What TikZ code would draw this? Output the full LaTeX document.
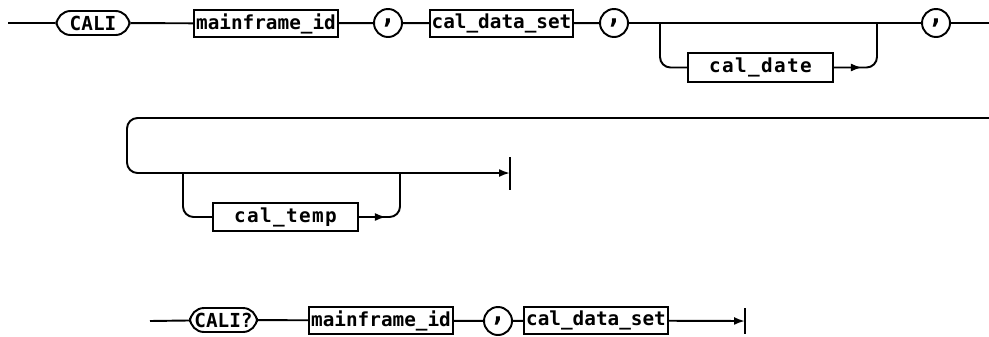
\documentclass[tikz,border=0pt]{standalone}
\usepackage{fontspec}
\newfontfamily\plotfont{DejaVu Sans Mono}
\newfontfamily\plotwide[LetterSpace=7]{DejaVu Sans Mono}
\usetikzlibrary{arrows.meta, positioning, calc}
\tikzset{
  every picture/.style={line width=1.1pt},
  term/.style={draw, rounded corners=8pt, minimum height=0.48cm, inner sep=1pt, font=\fontsize{11}{13}\plotfont\bfseries},
  ntbox/.style={draw, minimum height=0.54cm, inner sep=1pt, font=\fontsize{11}{13}\plotfont\bfseries},
  optbox/.style={ntbox, minimum width=2.9cm, minimum height=0.58cm, font=\fontsize{11}{13}\plotwide\bfseries},
  sepcirc/.style={draw, circle, minimum size=0.56cm, inner sep=0pt, font=\fontsize{15}{15}\plotfont\bfseries},
  flow/.style={-{Latex[length=2.2mm,width=1.6mm]}},
  railbend/.style={rounded corners=6pt},
}
\newcommand{\commasym}{\raisebox{2.5pt}{,}}
\begin{document}
\begin{tikzpicture}[x=0.02cm, y=-0.02cm]
  \useasboundingbox (0,0) rectangle (989,336);
  % CALI command, first line
  \coordinate (s1) at (8,23);
  \node[term, minimum width=1.46cm] (cali) at (93,23) {CALI};
  \node[ntbox, minimum width=2.84cm] (mf1) at (266,23.5) {mainframe\_id};
  \node[sepcirc] (c1) at (388,23) {\commasym};
  \node[ntbox, minimum width=2.86cm] (ds1) at (501.5,23.5) {cal\_data\_set};
  \node[sepcirc] (c2) at (614,23) {\commasym};
  \node[optbox] (date) at (760.5,67.5) {cal\_date};
  \node[sepcirc] (c3) at (936,23) {\commasym};
  \coordinate (e1) at (989,23);
  \draw (s1) -- (cali) -- (mf1) -- (c1) -- (ds1) -- (c2) -- (c3) -- (e1);
  \coordinate (b1) at (660,23);
  \coordinate (b2) at (877,23);
  \draw[railbend] (b1) |- (date.west);
  \draw[railbend] (date.east) -| (b2);
  \draw[flow] (date.east) -- ++(28,0);
  % second line
  \coordinate (s2) at (989,118);
  \coordinate (k2) at (127,173);
  \coordinate (bar2) at (510,173);
  \draw[railbend, flow] (s2) -| (k2) -- (bar2);
  \draw ($(bar2)+(0,-16)$) -- ($(bar2)+(0,17)$);
  \node[optbox, minimum height=0.56cm] (temp) at (285.5,217) {cal\_temp};
  \coordinate (b3) at (183,173);
  \coordinate (b4) at (400,173);
  \draw[railbend] (b3) |- (temp.west);
  \draw[railbend] (temp.east) -| (b4);
  \draw[flow] (temp.east) -- ++(27,0);
  % CALI? query
  \coordinate (s3) at (150,321);
  \node[term, minimum width=1.34cm] (caliq) at (223.5,320) {CALI?};
  \node[ntbox, minimum width=2.84cm] (mf2) at (381,320.5) {mainframe\_id};
  \node[sepcirc] (c4) at (498,321) {\commasym};
  \node[ntbox, minimum width=2.76cm] (ds2) at (596,320.5) {cal\_data\_set};
  \coordinate (bar3) at (745,321);
  \draw (s3) -- (caliq) -- (mf2) -- (c4) -- (ds2);
  \draw[flow] (ds2) -- (bar3);
  \draw ($(bar3)+(0,-13)$) -- ($(bar3)+(0,13)$);
\end{tikzpicture}
\end{document}
